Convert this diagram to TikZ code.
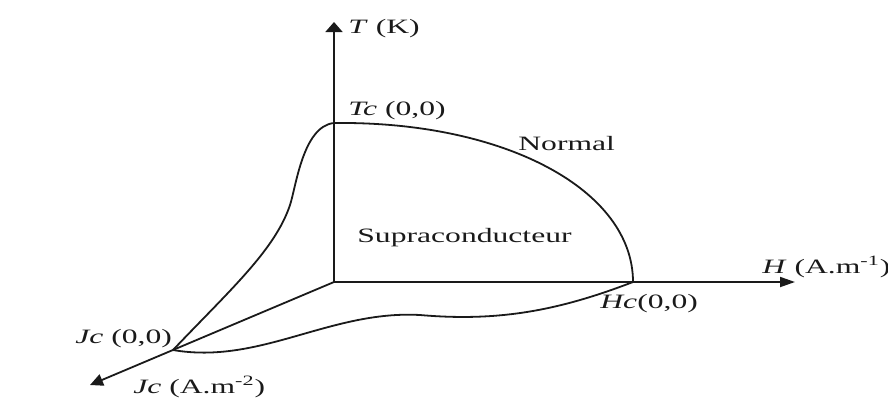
\documentclass[tikz,border=0pt]{standalone}
\usepackage{fontspec}
\setmainfont{Liberation Serif}[FakeStretch=1.55]
\usepackage{tikz}
\usetikzlibrary{positioning,arrows.meta,calc}
\definecolor{ink}{HTML}{1A1A1A}
\tikzset{
  axis/.style={draw=ink,line width=0.9pt},
  upaxis/.style={axis,-{Triangle[length=5pt,width=8.5pt]}},
  rightaxis/.style={axis,-{Triangle[length=7.5pt,width=5pt]}},
  diagaxis/.style={axis,-{Triangle[length=6.5pt,width=6pt]}},
  border/.style={draw=ink,line width=0.9pt},
  lbl/.style={inner sep=0,anchor=base west,font=\fontsize{10.2}{12}\selectfont,text=ink}}

\begin{document}
\begin{tikzpicture}[x=0.5pt,y=-0.5pt]
  \useasboundingbox (0,0) rectangle (888,403);
  % axes
  \coordinate (O) at (334,282);
  \coordinate (Ttip) at (334,22);
  \coordinate (Htip) at (795,282);
  \coordinate (Jtip) at (90,385);
  \coordinate (Tc) at (334,123);
  \coordinate (Hc) at (633,282);
  \coordinate (Jc) at (173,350);
  \draw[upaxis] (O) -- (Ttip);
  \draw[rightaxis] (O) -- (Htip);
  \draw[diagaxis] (O) -- (Jtip);
  % critical surface
  \draw[border] (Tc) .. controls (505,121) and (633,190) .. (Hc);
  \draw[border] (Jc) .. controls (230,290) and (275,250) .. (290,205)
                     .. controls (296,187) and (303,126) .. (Tc);
  \draw[border] (Jc) .. controls (260,365) and (330,310) .. (420,315)
                     .. controls (500,322) and (560,310) .. (Hc);
  % labels
  \node[lbl] (tk) at (348,33) {\textit{T} (K)};
  \node[lbl] (tcl) at (348,115) {\textit{Tc} (0,0)};
  \node[lbl] (normal) at (518,150) {Normal};
  \node[lbl] (supra) at (357,242) {Supraconducteur};
  \node[lbl] (hl) at (762,273) {\textit{H} (A.m\textsuperscript{-1})};
  \node[lbl] (hcl) at (600,308) {\textit{Hc}(0,0)};
  \node[lbl] (jcl) at (75,343) {\textit{Jc} (0,0)};
  \node[lbl] (jl) at (133,393) {\textit{Jc} (A.m\textsuperscript{-2})};
\end{tikzpicture}
\end{document}
